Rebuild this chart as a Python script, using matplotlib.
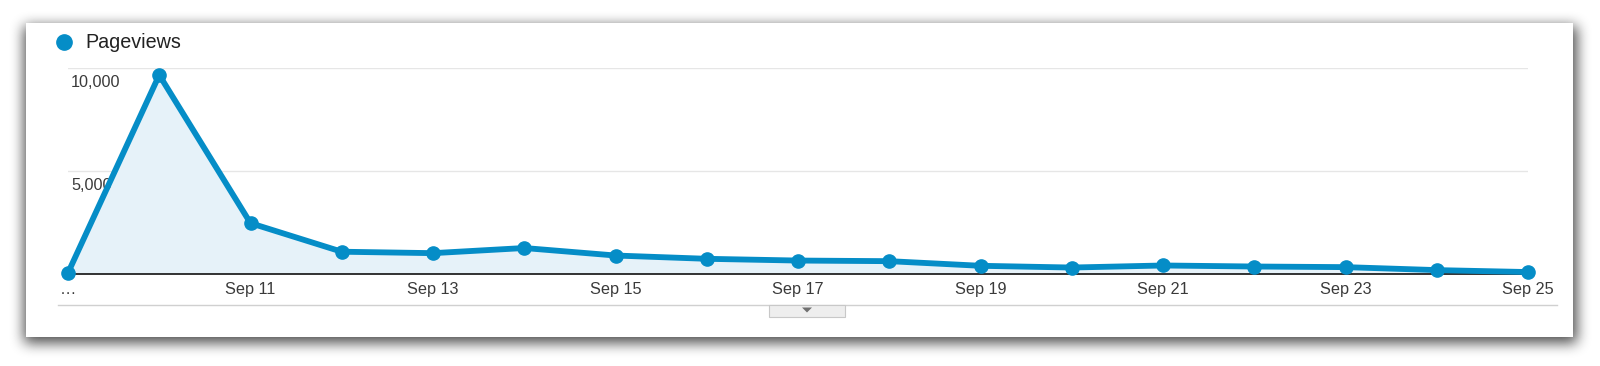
import numpy as np
import matplotlib
matplotlib.use("Agg")
import matplotlib.pyplot as plt
from matplotlib.patches import Rectangle, Polygon
import matplotlib.transforms as mtransforms

plt.rcParams['font.family'] = ['Liberation Sans', 'DejaVu Sans']

# ---- data ----
dates = ['Sep 9', 'Sep 10', 'Sep 11', 'Sep 12', 'Sep 13', 'Sep 14', 'Sep 15', 'Sep 16',
         'Sep 17', 'Sep 18', 'Sep 19', 'Sep 20', 'Sep 21', 'Sep 22', 'Sep 23', 'Sep 24', 'Sep 25']
pageviews = [30, 9660, 2450, 1060, 990, 1240, 875, 715, 630, 600, 375, 290, 390, 340, 310, 165, 70]
series_name = 'Pageviews'
ytick_values = [5000, 10000]
ytick_labels = ['5,000', '10,000']
xtick_idx = list(range(0, len(dates), 2))
xtick_labels = ['…'] + [dates[i] for i in xtick_idx[1:]]

LINE = '#058dc7'
FILL = '#e6f2f9'
TXT = '#3a3a3a'

W, H = 1600, 366
fig = plt.figure(figsize=(W / 100, H / 100), dpi=100)
fig.patch.set_facecolor('white')

# ---- background / card with soft shadow ----
bg = fig.add_axes([0, 0, 1, 1], zorder=0)
bg.set_xlim(0, W)
bg.set_ylim(H, 0)
bg.axis('off')

cx0, cx1, cy0, cy1 = 26, 1573, 23, 337
mask = np.zeros((H, W))
mask[cy0 + 3:cy1 + 6, cx0 - 2:cx1 + 4] = 1.0

def box_blur(a, r, axis):
    c = np.cumsum(np.pad(a, [(r + 1, r) if ax == axis else (0, 0) for ax in range(2)], mode='edge'), axis=axis)
    if axis == 0:
        return (c[2 * r + 1:] - c[:-2 * r - 1]) / (2 * r + 1)
    return (c[:, 2 * r + 1:] - c[:, :-2 * r - 1]) / (2 * r + 1)

sh = mask
for _ in range(3):
    sh = box_blur(sh, 6, 0)
    sh = box_blur(sh, 6, 1)
img = 1.0 - 0.7 * sh
bg.imshow(img, cmap='gray', vmin=0, vmax=1, extent=[0, W, H, 0], interpolation='bilinear', aspect='auto')
bg.add_patch(Rectangle((cx0, cy0), cx1 - cx0, cy1 - cy0, facecolor='white', edgecolor='none', zorder=2))

# divider line and tab
bg.plot([58, 1557], [305, 305], color='#d0d0d0', lw=1.0, zorder=3)
bg.add_patch(Rectangle((769, 305), 76, 12, facecolor='#eeeeee', edgecolor='#c8c8c8', lw=0.8, zorder=3))
bg.add_patch(Polygon([[802, 307.5], [812, 307.5], [807, 312.5]], closed=True, facecolor='#707070',
                     edgecolor='none', zorder=4))

# legend
bg.plot([64], [42], 'o', color=LINE, markersize=11, zorder=4)
bg.text(85, 42, series_name, fontsize=14.2, color='#222222', va='center', ha='left', zorder=4)

# ---- main chart ----
x0, x1 = 68, 1528
yb, yt = 273.5, 68
ax = fig.add_axes([x0 / W, 1 - yb / H, (x1 - x0) / W, (yb - yt) / H], zorder=5)
ax.set_facecolor('none')
x = np.arange(len(dates))
ax.set_xlim(0, len(dates) - 1)
ax.set_ylim(0, 10000)

ax.fill_between(x, pageviews, 0, color=FILL, lw=0, zorder=1)
ax.plot(x, pageviews, color=LINE, lw=4.2, marker='o', markersize=9.5, clip_on=False, zorder=4,
        solid_joinstyle='round')

for s in ['top', 'right', 'left']:
    ax.spines[s].set_visible(False)
ax.spines['bottom'].set_color('#111111')
ax.spines['bottom'].set_linewidth(1.2)
ax.spines['bottom'].set_zorder(3)

ax.set_yticks(ytick_values)
ax.set_yticklabels([])
ax.tick_params(axis='y', length=0)
ax.grid(axis='y', color='#e6e6e6', lw=1.0, zorder=0)
ax.set_axisbelow(True)

trans = mtransforms.offset_copy(ax.transData, fig=fig, x=3, y=-7, units='dots')
for v, lab in zip(ytick_values, ytick_labels):
    ax.text(0.0, v, lab, transform=trans, fontsize=11.7, color=TXT, ha='left', va='top', zorder=2)

ax.set_xticks(xtick_idx)
ax.set_xticklabels(xtick_labels, fontsize=11.7, color=TXT)
ax.tick_params(axis='x', length=0, pad=6)

fig.savefig('out.png', dpi=100, facecolor='white')
